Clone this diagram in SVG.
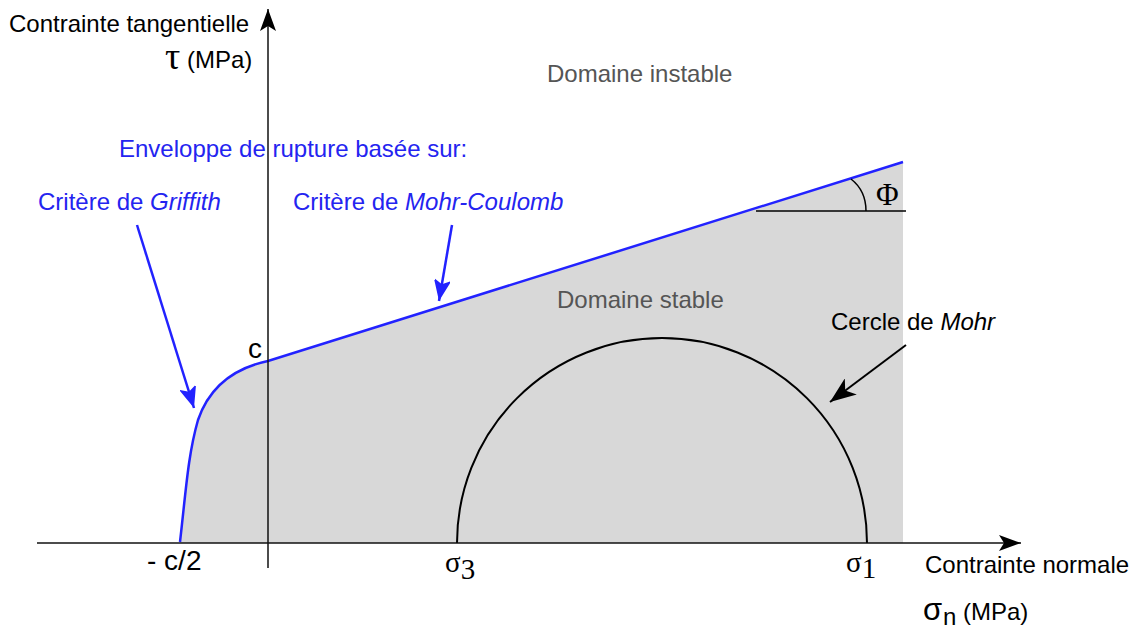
<svg xmlns="http://www.w3.org/2000/svg" width="1133" height="628" viewBox="0 0 1133 628">
<style>
.t{font-family:"Liberation Sans",Arial,sans-serif;font-size:24px;fill:#000}
.b{fill:#2424f0}
.g{fill:#555}
.s{font-family:"Liberation Serif","Times New Roman",serif;font-size:29px;fill:#000}
.ax{stroke:#111;stroke-width:1.5;fill:none}
.bl{stroke:#2222ff;stroke-width:2.5;fill:none}
</style>
<defs>
<marker id="ah" viewBox="-22 -8 22 16" markerWidth="22" markerHeight="16" refX="0" refY="0" orient="auto" markerUnits="userSpaceOnUse">
<path d="M0,0 L-22,-8 L-17,0 L-22,8 Z" fill="#000"/>
</marker>
<marker id="ahm" viewBox="-26 -10 26 20" markerWidth="26" markerHeight="20" refX="0" refY="0" orient="auto" markerUnits="userSpaceOnUse">
<path d="M0,0 L-26,-10 L-19,0 L-26,10 Z" fill="#000"/>
</marker>
<marker id="ahb" viewBox="-22 -8 22 16" markerWidth="22" markerHeight="16" refX="0" refY="0" orient="auto" markerUnits="userSpaceOnUse">
<path d="M0,0 L-22,-9 L-17,0 L-22,9 Z" fill="#2222ff"/>
</marker>
</defs>
<rect width="1133" height="628" fill="#fff"/>
<g id="stable-region">
<path d="M180,543 C186,490 188,455 198,420 C210,385 235,368 268,361 L903,162 L903,543 Z" fill="#d8d8d8"/>
</g>
<g id="mohr-circle">
<path d="M457,543 A205,205 0 0 1 867,543" fill="none" stroke="#000" stroke-width="2"/>
</g>
<g id="envelope">
<path class="bl" d="M180,542 C186,490 188,455 198,420 C210,385 235,368 268,361 L903,162"/>
</g>
<g id="angle-phi">
<line x1="756" y1="211" x2="906" y2="211" stroke="#000" stroke-width="1.5"/>
<path d="M851,179 C860,186 866,197 866,211" fill="none" stroke="#000" stroke-width="1.5"/>
<text class="s" x="876" y="205" style="font-size:31px">Φ</text>
</g>
<g id="axes">
<line class="ax" x1="37" y1="543" x2="1021" y2="543" marker-end="url(#ah)"/>
<line class="ax" x1="268" y1="568" x2="268" y2="9" marker-end="url(#ah)"/>
</g>
<g id="connectors">
<line x1="137" y1="225" x2="194" y2="408" stroke="#2222ff" stroke-width="2.5" marker-end="url(#ahb)"/>
<line x1="452" y1="225" x2="439" y2="301" stroke="#2222ff" stroke-width="2.5" marker-end="url(#ahb)"/>
<line x1="906" y1="345" x2="830" y2="402" stroke="#000" stroke-width="2" marker-end="url(#ahm)"/>
</g>
<g id="label-y-axis">
<text class="t" x="9" y="32">Contrainte tangentielle</text>
<text class="s" x="165" y="69" style="font-size:38px">τ</text>
<text class="t" x="187" y="68">(MPa)</text>
</g>
<g id="label-x-axis">
<text class="t" x="925" y="573">Contrainte normale</text>
<text class="t" x="923" y="620" style="font-size:31px">σ</text>
<text class="t" x="943" y="625">n</text>
<text class="t" x="963" y="620">(MPa)</text>
</g>
<g id="label-domains">
<text class="t g" x="547" y="82">Domaine instable</text>
<text class="t g" x="557" y="308">Domaine stable</text>
</g>
<g id="label-envelope">
<text class="t b" x="119" y="157">Enveloppe de rupture basée sur:</text>
<text class="t b" x="38" y="210">Critère de <tspan font-style="italic">Griffith</tspan></text>
<text class="t b" x="293" y="210">Critère de <tspan font-style="italic">Mohr-Coulomb</tspan></text>
</g>
<g id="label-mohr">
<text class="t" x="831" y="330">Cercle de <tspan font-style="italic">Mohr</tspan></text>
</g>
<g id="label-ticks">
<text class="t" x="248" y="358" style="font-size:28px">c</text>
<text class="t" x="147" y="570" style="font-size:28px">- c/2</text>
<text class="s" x="445" y="572">σ<tspan dy="7">3</tspan></text>
<text class="s" x="846" y="572">σ<tspan dy="6">1</tspan></text>
</g>
</svg>
